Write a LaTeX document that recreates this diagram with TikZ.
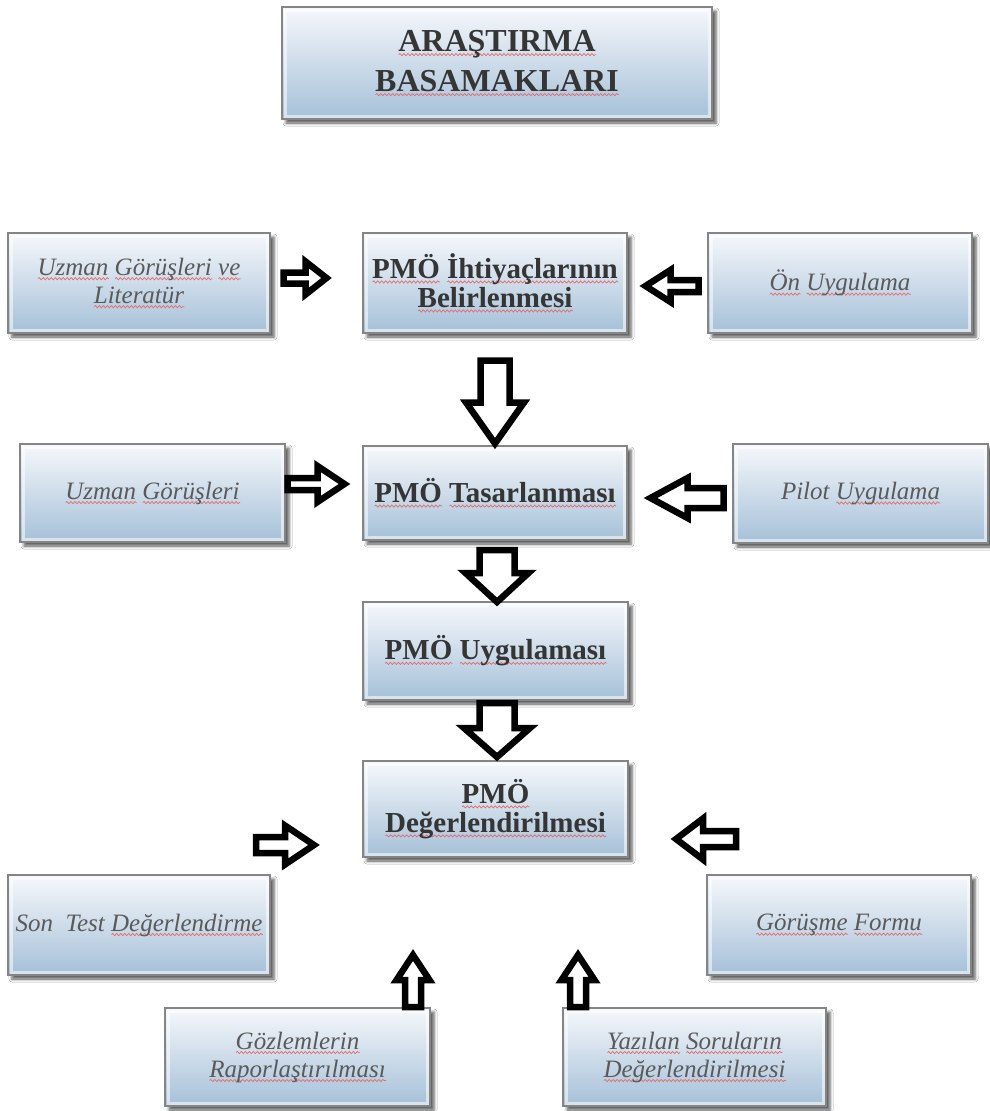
\documentclass[tikz,border=0pt]{standalone}
\usepackage{fontspec}
\setmainfont{Liberation Serif}
\usetikzlibrary{shadows.blur,decorations.pathmorphing}

\definecolor{boxtop}{HTML}{F6F8FB}
\definecolor{boxbot}{HTML}{A5C0D8}
\definecolor{boxedge}{HTML}{858585}
\definecolor{darktext}{HTML}{353535}
\definecolor{softtext}{HTML}{5A5A5A}
\definecolor{wavered}{HTML}{E46A6A}

% red wavy underline under a single word
\newsavebox\sqbox
\newlength\sqlen
\newcommand\sq[1]{\sbox\sqbox{#1}\setlength\sqlen{\wd\sqbox}%
  \rlap{\tikz[baseline=0pt,x=1pt,y=1pt]\draw[wavered,line width=0.7pt,decorate,
    decoration={snake,amplitude=1.1pt,segment length=4pt}] (0,-3.5) -- (\sqlen,-3.5);}#1}

% outlined block arrow: centre x, centre y, angle, length, head length, shaft width, head width
\newcommand\blockarrow[7]{%
  \draw[blockarr, shift={(#1,#2)}, rotate=#3]
    (-#4/2,-#6/2) -- (#4/2-#5,-#6/2) -- (#4/2-#5,-#7/2) -- (#4/2,0)
    -- (#4/2-#5,#7/2) -- (#4/2-#5,#6/2) -- (-#4/2,#6/2) -- cycle;}

\tikzset{
  panel/.style={rectangle, draw=boxedge, line width=1.3pt,
    top color=boxtop, bottom color=boxbot, align=center, inner sep=4pt,
    blur shadow={shadow xshift=4pt, shadow yshift=-4pt, shadow blur radius=3pt, shadow opacity=65},
    path picture={\draw[white, opacity=0.55, line width=3pt]
      ([xshift=3pt,yshift=-3pt]path picture bounding box.north west) rectangle
      ([xshift=-3pt,yshift=3pt]path picture bounding box.south east);}},
  titlebox/.style={panel, font=\fontsize{32}{40}\selectfont\bfseries, text=darktext},
  mainstep/.style={panel, font=\fontsize{29}{29}\selectfont\bfseries, text=darktext},
  sidestep/.style={panel, font=\fontsize{25}{28}\selectfont\itshape, text=softtext},
  blockarr/.style={draw=black, fill=white, line width=6.5pt, line join=miter},
}

\begin{document}
\begin{tikzpicture}[x=1pt, y=-1pt]
\fill[white] (0,0) rectangle (990,1111);
\useasboundingbox (0,0) rectangle (990,1111);

% title
\node[titlebox, minimum width=430pt, minimum height=112pt] (title) at (497,63)
  {\sq{ARAŞTIRMA}\\\sq{BASAMAKLARI}};

% row 1
\node[sidestep, minimum width=262pt, minimum height=100pt] (lit) at (139,283)
  {\sq{Uzman} \sq{Görüşleri} \sq{ve}\\\sq{Literatür}};
\node[mainstep, minimum width=264pt, minimum height=100pt] (needs) at (495,283)
  {\sq{PMÖ} \sq{İhtiyaçlarının}\\\sq{Belirlenmesi}};
\node[sidestep, minimum width=264pt, minimum height=100pt] (pre) at (840,283)
  {\sq{Ön} \sq{Uygulama}};

% row 2
\node[sidestep, minimum width=265pt, minimum height=98pt] (expert) at (152.5,493)
  {\sq{Uzman} \sq{Görüşleri}};
\node[mainstep, minimum width=264pt, minimum height=94pt] (design) at (495,493)
  {\sq{PMÖ} \sq{Tasarlanması}};
\node[sidestep, minimum width=255pt, minimum height=99pt] (pilot) at (860.5,493.5)
  {Pilot \sq{Uygulama}};

% row 3
\node[mainstep, minimum width=265pt, minimum height=98pt] (apply) at (495.5,651)
  {\sq{PMÖ} \sq{Uygulaması}};

% row 4
\node[mainstep, minimum width=265pt, minimum height=96pt] (eval) at (495.5,809)
  {\sq{PMÖ}\\\sq{Değerlendirilmesi}};
\node[sidestep, minimum width=262pt, minimum height=100pt] (posttest) at (139,925)
  {Son\hspace{0.5em}Test \sq{Değerlendirme}};
\node[sidestep, minimum width=264pt, minimum height=100pt] (interview) at (839,925)
  {\sq{Görüşme} \sq{Formu}};

% bottom row
\node[sidestep, minimum width=265pt, minimum height=98pt] (observe) at (297.5,1057)
  {\sq{Gözlemlerin}\\\sq{Raporlaştırılması}};
\node[sidestep, minimum width=263pt, minimum height=98pt] (written) at (694.5,1057)
  {\sq{Yazılan} \sq{Soruların}\\\sq{Değerlendirilmesi}};

% block arrows
\blockarrow{305}{278}{0}{43}{21}{11}{33}
\blockarrow{672}{286}{180}{53}{25}{12}{32}
\blockarrow{495}{402}{-90}{83}{41}{29}{58}
\blockarrow{316}{484}{0}{57}{27}{12}{36}
\blockarrow{687}{498}{180}{73}{37}{20}{40}
\blockarrow{497}{576}{-90}{52}{29}{35}{63}
\blockarrow{497}{730}{-90}{54}{29}{35}{66}
\blockarrow{285}{845}{0}{58}{29}{16}{39}
\blockarrow{706}{839}{180}{60}{27}{16}{41}
\blockarrow{413}{981}{90}{52}{25}{16}{33}
\blockarrow{578}{981}{90}{52}{25}{16}{33}
\end{tikzpicture}
\end{document}
